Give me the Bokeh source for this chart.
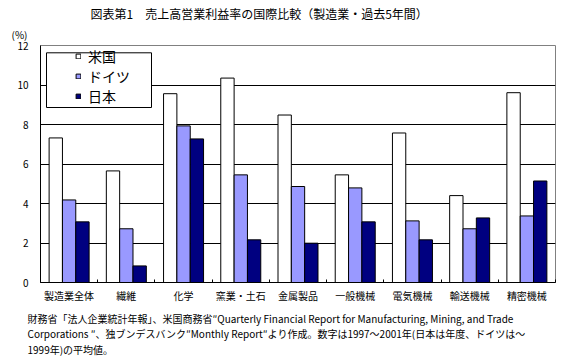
from bokeh.plotting import figure
from bokeh.models import (Range1d, FixedTicker, Legend, LegendItem, Title,
                          BoxAnnotation, ColumnDataSource)
from bokeh.embed import file_html
from bokeh.resources import INLINE

categories = ["製造業全体", "繊維", "化学", "窯業・土石", "金属製品",
              "一般機械", "電気機械", "輸送機械", "精密機械"]
series = ["米国", "ドイツ", "日本"]
us = [7.32, 5.65, 9.56, 10.35, 8.48, 5.45, 7.57, 4.40, 9.61]
germany = [4.18, 2.72, 7.93, 5.45, 4.86, 4.79, 3.12, 2.72, 3.37]
japan = [3.07, 0.84, 7.27, 2.16, 1.99, 3.07, 2.16, 3.27, 5.14]
y_ticks = [0, 2, 4, 6, 8, 10, 12]
colors = ["#FFFFFF", "#9999FF", "#000080"]

title_text = "図表第1　売上高営業利益率の国際比較（製造業・過去5年間）"
unit_text = "(%)"
note_lines = [
    "財務省「法人企業統計年報」、米国商務省″Quarterly Financial Report for Manufacturing, Mining, and Trade",
    "Corporations ″、独ブンデスバンク″Monthly Report″より作成。数字は1997～2001年(日本は年度、ドイツは～",
    "1999年)の平均値。",
]

FONT = "Noto Sans CJK JP"

p = figure(width=580, height=360, output_backend="svg", toolbar_location=None,
           x_range=Range1d(0, len(categories)), y_range=Range1d(0, 12),
           min_border_left=40, min_border_right=25, min_border_top=45,
           min_border_bottom=78)
p.background_fill_color = "white"
p.border_fill_color = "white"
p.outline_line_color = "#808080"
p.outline_line_width = 1

centers = [i + 0.5 for i in range(len(categories))]
bar_w = 0.233
renderers = []
for k, vals in enumerate([us, germany, japan]):
    src = ColumnDataSource(dict(x=[c + (k - 1) * bar_w for c in centers], top=vals))
    r = p.vbar(x="x", top="top", bottom=0, width=bar_w, source=src,
               fill_color=colors[k], line_color="black", line_width=1)
    renderers.append(r)

# x axis
p.xaxis.ticker = FixedTicker(ticks=centers, minor_ticks=list(range(0, len(categories) + 1)))
p.xaxis.major_label_overrides = {c: cat for c, cat in zip(centers, categories)}
p.xaxis.major_tick_in = 0
p.xaxis.major_tick_out = 0
p.xaxis.minor_tick_in = 3
p.xaxis.minor_tick_out = 0
p.xaxis.minor_tick_line_color = "black"
p.xaxis.major_label_standoff = 5
p.xaxis.major_label_text_font = FONT
p.xaxis.major_label_text_font_size = "10px"
p.xaxis.major_label_text_color = "black"
p.xaxis.axis_line_color = "black"
p.xgrid.visible = False

# y axis
p.yaxis.ticker = FixedTicker(ticks=y_ticks)
p.yaxis.major_tick_in = 0
p.yaxis.major_tick_out = 0
p.yaxis.minor_tick_in = 0
p.yaxis.minor_tick_out = 0
p.yaxis.major_label_standoff = 12
p.yaxis.major_label_text_font = FONT
p.yaxis.major_label_text_font_size = "10px"
p.yaxis.major_label_text_color = "black"
p.yaxis.axis_line_color = "black"
p.ygrid.ticker = FixedTicker(ticks=y_ticks[1:-1])
p.ygrid.grid_line_color = "black"
p.ygrid.grid_line_width = 1

# legend box + legend (box position in data units)
box = BoxAnnotation(left=0.105, right=1.94, top=11.63, bottom=8.86,
                    fill_color="white", fill_alpha=1.0,
                    line_color="black", line_width=1, line_alpha=1.0)
p.add_layout(box)

legend = Legend(items=[LegendItem(label=s, renderers=[r]) for s, r in zip(series, renderers)],
                location=(35, 176), orientation="vertical",
                padding=0, margin=0, spacing=0,
                glyph_width=6, glyph_height=6, label_standoff=7,
                label_height=17, label_text_font=FONT, label_text_font_size="14px",
                label_text_color="black",
                background_fill_alpha=0, border_line_alpha=0)
p.add_layout(legend)

# texts above (first added = nearest the frame)
p.add_layout(Title(text=unit_text, align="left", offset=-29, standoff=7,
                   text_font=FONT, text_font_size="10px", text_font_style="normal",
                   text_color="black"), "above")
p.add_layout(Title(text=title_text, align="left", offset=50, standoff=0,
                   text_font=FONT, text_font_size="12px", text_font_style="normal",
                   text_color="black"), "above")

# notes below the axis (one multi-line title)
p.add_layout(Title(text="\n".join(note_lines), align="left", offset=-13, standoff=5,
                   text_font=FONT, text_font_size="10px", text_font_style="normal",
                   text_line_height=1.05, text_color="black"), "below")

open("out.html", "w").write(file_html(p, INLINE))
